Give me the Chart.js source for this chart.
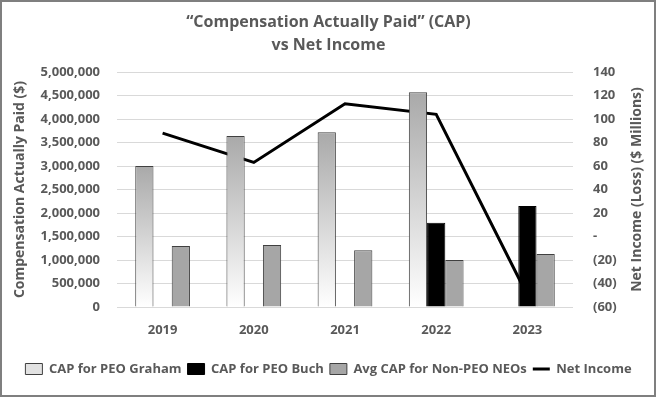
<!DOCTYPE html>
<html>
<head>
<meta charset="utf-8">
<script src="https://cdn.jsdelivr.net/npm/chart.js@4"></script>
<style>
  html, body { margin: 0; padding: 0; background: #fff; }
  #wrap { width: 657px; height: 398px; }
</style>
</head>
<body>
<div id="wrap"><canvas id="capChart" width="657" height="398"></canvas></div>
<script>
const years = ["2019", "2020", "2021", "2022", "2023"];
const capGraham = [3000000, 3640000, 3720000, 4570000, 0];
const capBuch = [0, 0, 0, 1790000, 2150000];
const capNonPeo = [1300000, 1320000, 1210000, 1000000, 1130000];
const netIncome = [88, 63, 113, 104, -50];

const textGray = "#595959";
Chart.defaults.font.family = "'Open Sans', sans-serif";
Chart.defaults.font.weight = "bold";
Chart.defaults.color = textGray;

// Gradient per bar: gray at the top, white at the base
function grahamFill(ctx) {
  const chart = ctx.chart;
  if (!chart.chartArea || ctx.type !== "data") return "#e0e0e0";
  const y = chart.scales.y;
  const top = y.getPixelForValue(ctx.raw);
  const bottom = y.getPixelForValue(0);
  if (bottom - top < 1) return "#e0e0e0";
  const g = chart.ctx.createLinearGradient(0, top, 0, bottom);
  g.addColorStop(0, "#a9a9a9");
  g.addColorStop(1, "#ffffff");
  return g;
}

// Outer frame and the right axis title (reads bottom to top)
const framePlugin = {
  id: "frame",
  afterDraw(chart) {
    const { ctx, width, height, chartArea } = chart;
    ctx.save();
    ctx.strokeStyle = "#7f7f7f";
    ctx.lineWidth = 2;
    ctx.strokeRect(1, 1, width - 3, height - 3);
    ctx.translate(637, (chartArea.top + chartArea.bottom) / 2);
    ctx.rotate(-Math.PI / 2);
    ctx.fillStyle = textGray;
    ctx.font = "bold 14px 'Open Sans', sans-serif";
    ctx.textAlign = "center";
    ctx.textBaseline = "middle";
    ctx.fillText("Net Income (Loss) ($ Millions)", 0, 0);
    ctx.restore();
  },
};

const ctx = document.getElementById("capChart").getContext("2d");
new Chart(ctx, {
  type: "bar",
  data: {
    labels: years,
    datasets: [
      {
        label: "CAP for PEO Graham",
        data: capGraham,
        backgroundColor: grahamFill,
        borderColor: "#404040",
        borderWidth: 1,
        yAxisID: "y",
        order: 1,
      },
      {
        label: "CAP for PEO Buch",
        data: capBuch,
        backgroundColor: "#000000",
        borderColor: "#000000",
        borderWidth: 1,
        yAxisID: "y",
        order: 1,
      },
      {
        label: "Avg CAP for Non-PEO NEOs",
        data: capNonPeo,
        backgroundColor: "#a6a6a6",
        borderColor: "#404040",
        borderWidth: 1,
        yAxisID: "y",
        order: 1,
      },
      {
        type: "line",
        label: "Net Income",
        data: netIncome,
        borderColor: "#000000",
        borderWidth: 3,
        pointRadius: 0,
        tension: 0,
        fill: false,
        yAxisID: "y1",
        order: 2,
      },
    ],
  },
  options: {
    responsive: false,
    animation: false,
    layout: { padding: { top: 0, left: 0, right: 0, bottom: 12.5 } },
    datasets: {
      bar: { categoryPercentage: 0.6, barPercentage: 1 },
    },
    plugins: {
      title: {
        display: true,
        text: ["\u201cCompensation Actually Paid\u201d (CAP)", "vs Net Income"],
        color: textGray,
        font: { size: 16, weight: "bold", lineHeight: 23 / 16 },
        padding: { top: 10.5, bottom: 15.5 },
      },
      legend: {
        position: "bottom",
        labels: {
          usePointStyle: true,
          pointStyleWidth: 17,
          boxHeight: 11,
          padding: 6,
          font: { size: 13, weight: "bold" },
          color: textGray,
          generateLabels(chart) {
            const items = Chart.defaults.plugins.legend.labels.generateLabels(chart);
            items.forEach((item, i) => {
              if (i === 3) {
                item.pointStyle = "line";
                item.strokeStyle = "#000000";
                item.lineWidth = 3;
              } else {
                item.pointStyle = "rect";
                item.lineWidth = 1;
                item.strokeStyle = i === 1 ? "#000000" : "#404040";
                if (i === 0) item.fillStyle = "#e2e2e2";
              }
            });
            return items;
          },
        },
      },
      tooltip: { enabled: false },
    },
    scales: {
      x: {
        grid: { display: false },
        border: { display: false },
        ticks: { padding: 7, font: { size: 13, weight: "bold" } },
        afterFit(axis) {
          axis.height = 49.5;
        },
      },
      y: {
        position: "left",
        min: 0,
        max: 5000000,
        grid: { color: "#d9d9d9", drawTicks: false },
        border: { display: false },
        ticks: {
          stepSize: 500000,
          padding: 17,
          font: { size: 13, weight: "bold" },
          callback: (v) => v.toLocaleString("en-US"),
        },
        title: {
          display: true,
          text: "Compensation Actually Paid ($)",
          font: { size: 14, weight: "bold" },
          padding: { top: 11.6 },
        },
        afterFit(axis) {
          axis.width = 117;
        },
      },
      y1: {
        position: "right",
        min: -60,
        max: 140,
        grid: { display: false, drawTicks: false },
        border: { display: false },
        ticks: {
          stepSize: 20,
          padding: 20,
          font: { size: 13, weight: "bold" },
          callback: (v) => (v === 0 ? "-" : v < 0 ? "(" + Math.abs(v) + ")" : String(v)),
        },
        afterFit(axis) {
          axis.width = 84;
        },
      },
    },
  },
  plugins: [framePlugin],
});
</script>
</body>
</html>
